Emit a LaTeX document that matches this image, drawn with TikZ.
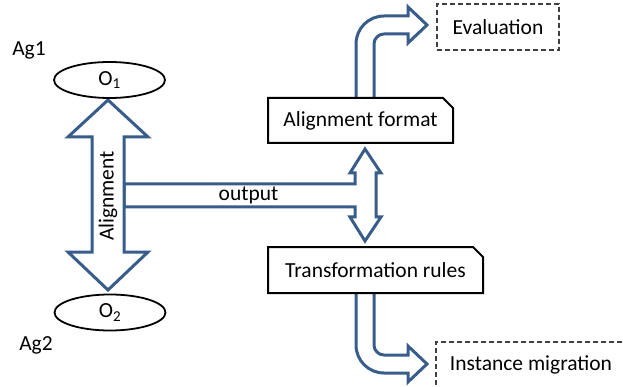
\documentclass[tikz,border=0pt]{standalone}
\usepackage{fontspec}
\setmainfont{Carlito}
\usetikzlibrary{shapes.geometric, shapes.misc, calc, positioning}
\definecolor{flowblue}{RGB}{56, 93, 138}
\definecolor{dashgray}{RGB}{64, 64, 64}

\begin{document}
\begin{tikzpicture}[x=1pt, y=-1pt, font=\fontsize{21.5}{25}\selectfont,
  blockarrow/.style={draw=flowblue, line width=3pt, fill=white, line join=miter},
  snipbox/.style={draw, line width=2pt, fill=white, chamfered rectangle, chamfered rectangle corners=north east, chamfered rectangle xsep=5pt, chamfered rectangle ysep=5pt, inner sep=0pt},
  dashbox/.style={draw=dashgray, line width=1.5pt, dash pattern=on 5pt off 3pt, inner sep=0pt},
  onto/.style={draw, ellipse, line width=1.8pt, inner sep=0pt, minimum width=111pt, minimum height=36pt}]
  \useasboundingbox (0,0) rectangle (623,387);

  % block arrows
  \draw[blockarrow] (124,184) -- (355,184) -- (355,173) -- (350,173) -- (365,149) -- (381,173) -- (376,173)
    -- (376,217) -- (381,217) -- (365,241) -- (350,217) -- (355,217) -- (355,207) -- (124,207) -- cycle;
  \draw[blockarrow] (108,100) -- (148,137) -- (124,137) -- (124,252) -- (148,252) -- (108,290)
    -- (68,252) -- (92,252) -- (92,137) -- (68,137) -- cycle;
  \draw[blockarrow] (356,100) -- (356,44) .. controls (356,28.5) and (368.5,16) .. (384,16) -- (408,16) -- (408,7)
    -- (427,25) -- (408,43) -- (408,34) -- (384,34) .. controls (378.5,34) and (374,38.5) .. (374,44) -- (374,100) -- cycle;
  \draw[blockarrow] (356,291) -- (356,345) .. controls (356,360.5) and (368.5,373) .. (384,373) -- (408,373) -- (408,382)
    -- (427,364) -- (408,346) -- (408,355) -- (384,355) .. controls (378.5,355) and (374,350.5) .. (374,345) -- (374,291) -- cycle;

  \node[onto] (o1) at (109.5,80) {O\textsubscript{1}};
  \node[onto] (o2) at (110,312.5) {O\textsubscript{2}};
  \node (ag1) at (29,50) {Ag1};
  \node (ag2) at (36,345) {Ag2};
  \node[rotate=90] (alignlbl) at (108,196) {Alignment};
  \node (outlbl) at (248.5,195) {output};

  \node[snipbox, minimum width=185pt, minimum height=45pt] (fmt) at (360.5,120.5) {Alignment format};
  \node[snipbox, minimum width=215pt, minimum height=46pt] (rules) at (375.5,270) {Transformation rules};
  \node[dashbox, minimum width=122pt, minimum height=46pt] (eval) at (498,27) {Evaluation};
  \node[dashbox, minimum width=190pt, minimum height=46pt] (migr) at (531,365) {Instance migration};
\end{tikzpicture}
\end{document}
